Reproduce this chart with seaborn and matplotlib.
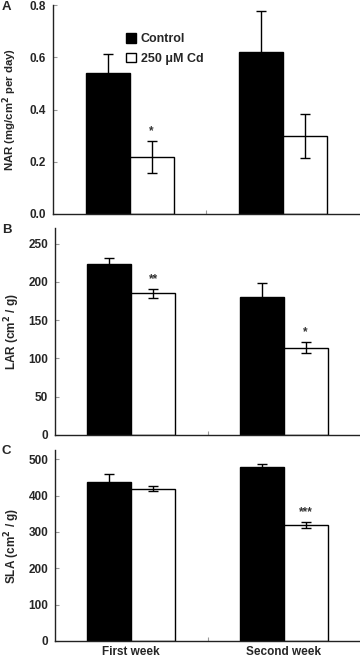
import matplotlib
matplotlib.use("Agg")
import matplotlib.pyplot as plt
import seaborn as sns
import pandas as pd

# data
weeks = ["First week", "Second week"]
treatments = ["Control", "250 \u03bcM Cd"]

nar_mean = {"Control": [0.539, 0.622], "250 \u03bcM Cd": [0.218, 0.299]}
nar_err = {"Control": [0.076, 0.156], "250 \u03bcM Cd": [0.062, 0.083]}
lar_mean = {"Control": [224, 180], "250 \u03bcM Cd": [185, 114]}
lar_err = {"Control": [7, 18], "250 \u03bcM Cd": [6, 7]}
sla_mean = {"Control": [437, 479], "250 \u03bcM Cd": [419, 319]}
sla_err = {"Control": [22, 9], "250 \u03bcM Cd": [7, 7]}

# significance marks on the Cd bars
nar_sig = ["*", ""]
lar_sig = ["**", "*"]
sla_sig = ["", "***"]

sns.set_style("ticks")
plt.rcParams["font.family"] = ["Liberation Sans", "DejaVu Sans"]
plt.rcParams["font.weight"] = "bold"

fig = plt.figure(figsize=(3.6, 6.6), dpi=100)

panels = [
    # label, mean, err, sig, ylabel, ylim, yticks, ticklabel fmt, rect
    ("A", nar_mean, nar_err, nar_sig, "NAR (mg/cm$^\\mathbf{2}$ per day)", (0, 0.8),
     [0, 0.2, 0.4, 0.6, 0.8], "{:.1f}", [0.147, 0.676, 0.853, 0.316]),
    ("B", lar_mean, lar_err, lar_sig, "LAR (cm$^\\mathbf{2}$ / g)", (0, 270),
     [0, 50, 100, 150, 200, 250], "{:.0f}", [0.153, 0.341, 0.847, 0.313]),
    ("C", sla_mean, sla_err, sla_sig, "SLA (cm$^\\mathbf{2}$ / g)", (0, 525),
     [0, 100, 200, 300, 400, 500], "{:.0f}", [0.153, 0.029, 0.847, 0.289]),
]

palette = {"Control": "black", "250 \u03bcM Cd": "white"}

for i, (lab, mean, err, sig, ylabel, ylim, yticks, fmt, rect) in enumerate(panels):
    ax = fig.add_axes(rect)
    rows = []
    for t in treatments:
        for w, m, e in zip(weeks, mean[t], err[t]):
            rows.append({"week": w, "treatment": t, "value": m, "err": e})
    df = pd.DataFrame(rows)

    sns.barplot(data=df, x="week", y="value", hue="treatment", order=weeks,
                hue_order=treatments, palette=palette, edgecolor="black",
                linewidth=1.0, width=0.575, gap=0, errorbar=None, ax=ax,
                legend=(i == 0))

    span = ylim[1] - ylim[0]
    for t, cont in zip(treatments, ax.containers):
        for j, bar in enumerate(cont):
            xc = bar.get_x() + bar.get_width() / 2
            ax.errorbar(xc, mean[t][j], yerr=err[t][j], fmt="none",
                        ecolor="black", elinewidth=1.0, capsize=3.5,
                        capthick=1.0, zorder=5)
            if t != "Control" and sig[j]:
                ax.text(xc, mean[t][j] + err[t][j] + 0.02 * span, sig[j],
                        ha="center", va="bottom", fontsize=8.5, color="#333333")

    ax.set_xlim(-0.5, 1.5)
    ax.set_ylim(*ylim)
    ax.set_yticks(yticks)
    ax.set_yticklabels([fmt.format(v) for v in yticks], fontsize=8.5,
                       fontweight="bold")
    ax.tick_params(axis="y", direction="in", length=3, color="#999999",
                   pad=5, width=0.8)
    ax.set_xticks([0, 1])
    ax.set_xticks([0.5], minor=True)
    ax.tick_params(axis="x", which="major", length=0, pad=4)
    ax.tick_params(axis="x", which="minor", direction="in", length=3,
                   color="#999999", width=0.8)
    if lab == "C":
        ax.set_xticklabels(weeks, fontsize=8.5, fontweight="bold")
    else:
        ax.set_xticklabels([])
    ax.set_xlabel("")
    ax.set_ylabel(ylabel, fontsize=8.2 if lab == "A" else 8.5,
                  fontweight="bold")
    ax.yaxis.set_label_coords(-0.11, 0.5)
    for s in ["top", "right"]:
        ax.spines[s].set_visible(False)
    for s in ["left", "bottom"]:
        ax.spines[s].set_color("#222222")
        ax.spines[s].set_linewidth(1.0)

    if lab == "A":
        ax.legend(loc="upper left", bbox_to_anchor=(0.20, 0.92),
                  frameon=False, handlelength=0.8, handleheight=0.8,
                  handletextpad=0.4, labelspacing=0.6,
                  prop={"weight": "bold", "size": 9})

    fig.text(0.005, rect[1] + rect[3] - 0.002, lab, fontsize=9.5,
             fontweight="bold", va="center", ha="left")

fig.savefig("out.png", dpi=100)
